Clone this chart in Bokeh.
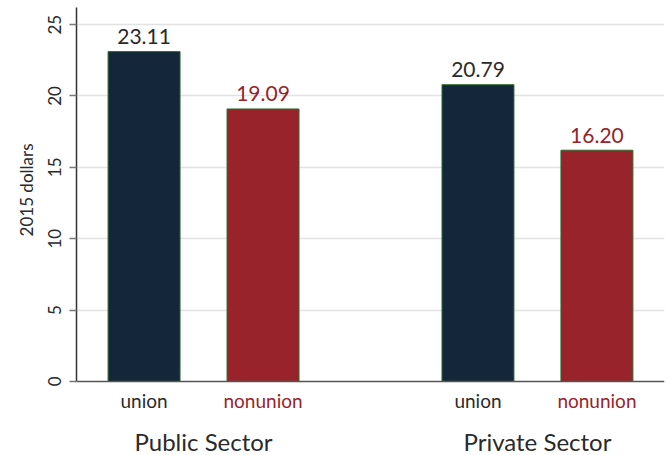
import math
from bokeh.plotting import figure
from bokeh.models import (ColumnDataSource, FactorRange, Range1d, FixedTicker,
                          Span, Title)
from bokeh.core.properties import value
from bokeh.embed import file_html
from bokeh.resources import INLINE

# ---- data ----
sectors = ["Public Sector", "Private Sector"]
statuses = ["union", "nonunion"]
public_wages = [23.11, 19.09]
private_wages = [20.79, 16.20]
y_ticks = [0, 5, 10, 15, 20, 25]
y_title = "2015 dollars"

NAVY = "#13263a"
RED = "#98232a"
TXT = "#2a2a2a"
FONT = "Lato"

factors = [(s, u) for s in sectors for u in statuses]
wages = public_wages + private_wages
bar_colors = [NAVY if u == "union" else RED for (_, u) in factors]
label_colors = [TXT if u == "union" else RED for (_, u) in factors]

src = ColumnDataSource(dict(
    x=factors,
    top=wages,
    fill=bar_colors,
    lab=[f"{w:.2f}" for w in wages],
    labcol=label_colors,
    sub=[u for (_, u) in factors],
    zero=[0] * len(factors),
))
gsrc = ColumnDataSource(dict(x=sectors, txt=sectors, zero=[0] * len(sectors)))

xr = FactorRange(factors=factors, factor_padding=0.0, group_padding=0.807,
                 range_padding=0.068, range_padding_units="absolute")
yr = Range1d(-5.19, 26.2)

p = figure(width=668, height=455, x_range=xr, y_range=yr,
           output_backend="svg", toolbar_location=None,
           min_border_left=76, min_border_right=4, min_border_top=7,
           min_border_bottom=0)
p.outline_line_color = None
p.background_fill_color = "white"
p.border_fill_color = "white"

p.xaxis.visible = False
p.xgrid.visible = False

p.ygrid.ticker = FixedTicker(ticks=y_ticks[1:])
p.ygrid.grid_line_color = "#e2e2e2"
p.ygrid.grid_line_width = 1.5

ya = p.yaxis[0]
ya.ticker = FixedTicker(ticks=y_ticks)
ya.bounds = (0, 26.2)
ya.axis_line_color = "#333333"
ya.axis_line_width = 1.5
ya.major_tick_line_color = "#777777"
ya.major_tick_line_width = 1.5
ya.major_tick_out = 7
ya.major_tick_in = 0
ya.minor_tick_line_color = None
ya.major_label_orientation = "vertical"
ya.major_label_text_font = FONT
ya.major_label_text_font_size = "17px"
ya.major_label_text_color = TXT
ya.major_label_standoff = 8

p.vbar(x="x", top="top", width=0.605, source=src, fill_color="fill",
       line_color="#2f6a2a", line_width=1)

p.add_layout(Span(location=0, dimension="width", line_color="#555555",
                  line_width=1.5))

p.text(x="x", y="top", text="lab", source=src, text_color="labcol",
       text_font=value(FONT), text_font_size="21px", text_align="center",
       text_baseline="alphabetic", y_offset=-15)
p.text(x="x", y="zero", text="sub", source=src, text_color="labcol",
       text_font=value(FONT), text_font_size="19px", text_align="center",
       text_baseline="alphabetic", y_offset=19)
p.text(x="x", y="zero", text="txt", source=gsrc, text_color=TXT,
       text_font=value(FONT), text_font_size="24px", text_align="center",
       text_baseline="alphabetic", y_offset=60)

p.add_layout(Title(text=y_title, align="right", offset=136, standoff=17,
                   text_font=FONT, text_font_size="17px",
                   text_font_style="normal", text_color=TXT), "left")

open("out.html", "w").write(file_html(p, INLINE))
